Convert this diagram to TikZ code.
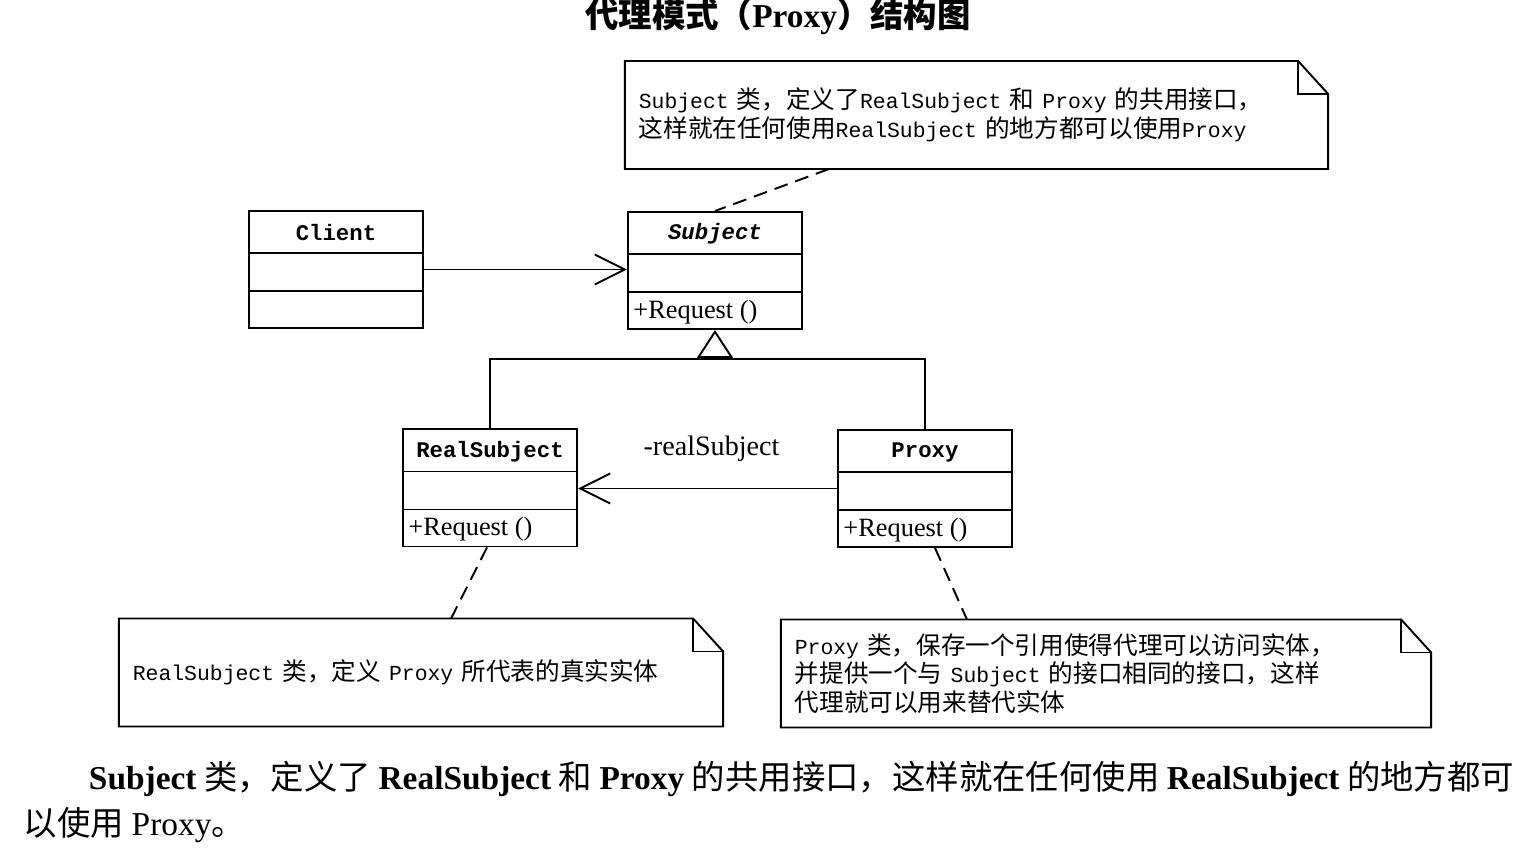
\documentclass[tikz,border=0pt]{standalone}
\usepackage{fontspec}
\setmainfont{Noto Sans CJK SC}
\setmonofont[Scale=0.87]{Liberation Mono}
\newfontfamily\latserif{Liberation Serif}
\usetikzlibrary{arrows.meta}

% Latin words in bold serif (paragraph under the diagram)
\newcommand{\bw}[1]{{\latserif\bfseries #1}}

% outline of a note with a folded corner
\newcommand{\dognote}[1]{%
  \draw (#1.north west) -- ([xshift=-0.3cm]#1.north east) -- ([yshift=-0.33cm]#1.north east)
    -- (#1.south east) -- (#1.south west) -- cycle;
  \draw ([xshift=-0.3cm]#1.north east) |- ([yshift=-0.33cm]#1.north east);}

\tikzset{
  umlclass/.style={draw, minimum width=1.74cm, minimum height=1.17cm, inner sep=0pt,
    path picture={
      \draw ([yshift=-0.42cm]path picture bounding box.north west) -- ([yshift=-0.42cm]path picture bounding box.north east);
      \draw ([yshift=-0.80cm]path picture bounding box.north west) -- ([yshift=-0.80cm]path picture bounding box.north east);}},
  clsname/.style={font=\fontsize{7.3}{9}\selectfont\ttfamily\bfseries},
  method/.style={anchor=west, inner sep=1pt, font=\fontsize{7.5}{9}\selectfont\latserif},
  umlnote/.style={align=left, inner xsep=0.13cm, inner ysep=0pt, minimum height=1.06cm,
    font=\fontsize{7}{8.2}\selectfont},
  assoc/.style={-{Straight Barb[length=0.3cm, width=0.3cm]}},
  inherit/.style={-{Triangle[open, length=0.28cm, width=0.36cm]}},
  notelink/.style={dash pattern=on 0.14cm off 0.08cm},
  para/.style={anchor=west, inner sep=0pt, font=\fontsize{9.5}{11}\selectfont},
}

\begin{document}
\begin{tikzpicture}[x=0.01cm, y=-0.01cm, line width=0.55pt]
\useasboundingbox (0,0) rectangle (1529,861);

% Titolo
\node[font=\fontsize{9.5}{11}\selectfont\bfseries] (title) at (778,17) {代理模式（{\latserif Proxy}）结构图};

% Classi
\node[umlclass] (client) at (336,269.5) {};
\node[clsname] at ([yshift=-0.23cm]client.north) {Client};

\node[umlclass] (subject) at (715,270.5) {};
\node[clsname, font=\fontsize{7.3}{9}\selectfont\ttfamily\bfseries\itshape] at ([yshift=-0.23cm]subject.north) {Subject};
\node[method] at ([xshift=0.02cm, yshift=0.18cm]subject.south west) {+Request ()};

\node[umlclass] (realsubject) at (490,488) {};
\node[clsname] at ([yshift=-0.23cm]realsubject.north) {RealSubject};
\node[method] at ([xshift=0.02cm, yshift=0.18cm]realsubject.south west) {+Request ()};

\node[umlclass] (proxy) at (925,488.5) {};
\node[clsname] at ([yshift=-0.23cm]proxy.north) {Proxy};
\node[method] at ([xshift=0.02cm, yshift=0.18cm]proxy.south west) {+Request ()};

% Associazioni
\draw[assoc] (client.east) -- (client.east -| subject.west);
\draw[assoc] (proxy.west) -- node[midway, xshift=0.04cm, yshift=0.40cm, font=\fontsize{8}{9}\selectfont\latserif] {-realSubject} (proxy.west -| realsubject.east);

% Generalizzazione
\coordinate (join) at (715,359);
\draw (realsubject.north) |- (join) -| (proxy.north);
\draw[inherit] (join) -- (subject.south);

% Note
\node[umlnote, text width=6.75cm] (subjnote) at (976.5,115)
  {\texttt{Subject} 类，定义了\texttt{RealSubject} 和 \texttt{Proxy} 的共用接口，\\
   这样就在任何使用\texttt{RealSubject} 的地方都可以使用\texttt{Proxy}};
\dognote{subjnote}

\node[umlnote, text width=5.76cm] (realnote) at (421,672.5)
  {\texttt{RealSubject} 类，定义 \texttt{Proxy} 所代表的真实实体};
\dognote{realnote}

\node[umlnote, text width=6.22cm] (proxynote) at (1106,673.5)
  {\texttt{Proxy} 类，保存一个引用使得代理可以访问实体，\\
   并提供一个与 \texttt{Subject} 的接口相同的接口，这样\\
   代理就可以用来替代实体};
\dognote{proxynote}

\draw[notelink] ([xshift=2.04cm]subjnote.south west) -- (subject.north);
\draw[notelink] ([xshift=-0.03cm]realsubject.south) -- ([xshift=3.32cm]realnote.north west);
\draw[notelink] ([xshift=0.1cm]proxy.south) -- ([xshift=1.86cm]proxynote.north west);

% Testo sotto la figura
\node[para] (line1) at (88,779) {\bw{Subject} 类，定义了 \bw{RealSubject} 和 \bw{Proxy} 的共用接口，这样就在任何使用 \bw{RealSubject} 的地方都可};
\node[para] (line2) at (23,825) {以使用 {\latserif Proxy}。};
\end{tikzpicture}
\end{document}
